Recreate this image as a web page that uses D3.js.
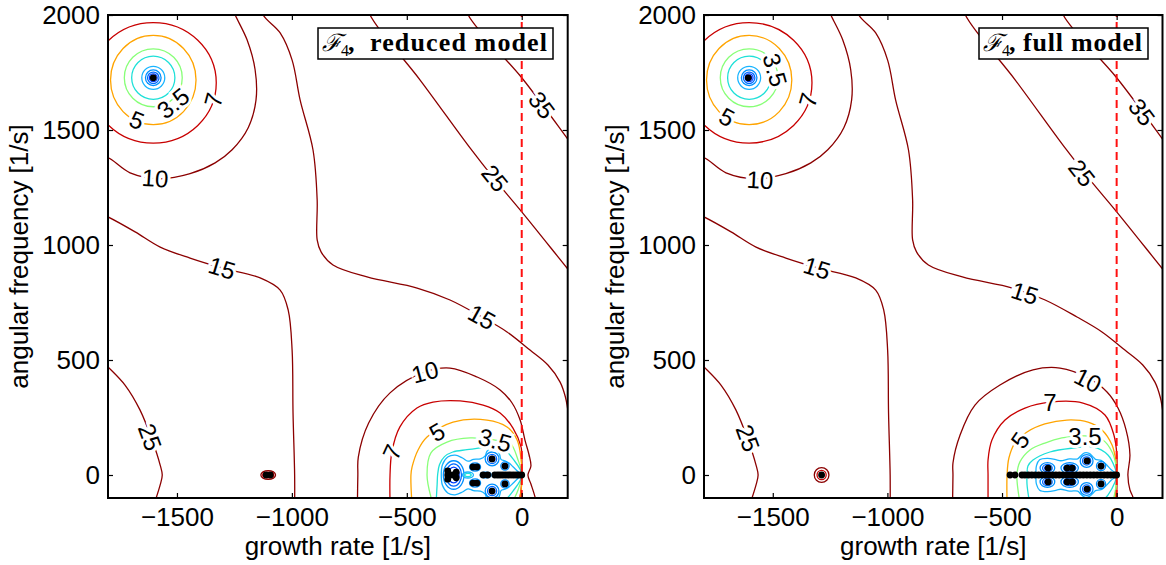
<!DOCTYPE html>
<html>
<head>
<meta charset="utf-8">
<script src="https://cdn.jsdelivr.net/npm/d3@7"></script>
<style>
  body { margin: 0; background: #fff; }
</style>
</head>
<body>
<div id="chart"></div>
<script>
// contour levels and their (jet-like) colours
var levels = [0.5, 1, 1.5, 2, 2.5, 3, 3.5, 5, 7, 10, 15, 25, 35];
var levelColors = ["#0018e8", "#0040ff", "#0068ff", "#0090ff", "#18b4ff", "#1ee0d8", "#88ff78", "#ffa400", "#c80000", "#8b0000", "#8b0000", "#8b0000", "#8b0000"];

var xTicks = [-1500, -1000, -500, 0];
var yTicks = [0, 500, 1000, 1500, 2000];

// far-field contours, [growth rate, angular frequency] (same in both panels)
var c10Top = [[-1820, 1375], [-1800, 1379], [-1704, 1314], [-1573, 1288], [-1443, 1310], [-1334, 1357], [-1260, 1414], [-1190, 1510], [-1156, 1631], [-1160, 1762], [-1195, 1892], [-1247, 2001], [-1262, 2040]];
var c15Left = [[-1830, 1135], [-1800, 1122], [-1682, 1057], [-1573, 991], [-1443, 943], [-1303, 900], [-1138, 857], [-1051, 804], [-1016, 717], [-999, 543], [-995, 270], [-988, 0], [-988, -130]];
var c15Right = [[-1140, 2060], [-1125, 2000], [-1051, 1922], [-999, 1804], [-964, 1630], [-908, 1413], [-890, 1196], [-890, 1022], [-873, 970], [-821, 913], [-673, 861], [-455, 813], [-312, 761], [-173, 687], [-64, 622], [36, 543], [114, 478], [167, 404], [190, 339], [205, 252], [215, 152], [218, 0], [216, -120]];
var c25Top = [[-690, 2100], [-660, 2000], [-442, 1717], [-225, 1422], [-116, 1283], [1, 1143], [197, 900], [230, 860]];
var c35Top = [[-260, 2100], [-233, 2000], [1, 1726], [197, 1465], [230, 1420]];
var c25Low = [[-1830, 500], [-1800, 470], [-1726, 391], [-1661, 283], [-1608, 152], [-1573, 43], [-1564, 0], [-1573, -43], [-1608, -152]];

// rings round the upper left eigenvalue: [level, centre g, centre w, rx, ry]
var ringsTopLeft = [
  [0.5, -1603, 1727, 10, 10], [1, -1603, 1727, 17, 17], [1.5, -1603, 1727, 25, 25], [2, -1603, 1727, 34, 34],
  [2.5, -1603, 1727, 50, 50], [3, -1603, 1727, 94, 94], [3.5, -1603, 1727, 126, 126],
  [5, -1603, 1717, 186, 194], [7, -1603, 1705, 274, 262]
];

// reduced model, cluster near the origin
var c10Red = [[-715, -130], [-713, 0], [-711, 78], [-666, 226], [-573, 357], [-421, 448], [-312, 465], [-194, 426], [-94, 370], [-42, 313], [-7, 239], [14, 152], [32, 87], [40, 39], [27, 0], [40, -39], [58, -96], [65, -130]];
var c7Red = [[-573, -120], [-573, 0], [-565, 100], [-530, 209], [-456, 291], [-386, 317], [-268, 322], [-168, 304], [-94, 270], [-38, 204], [-3, 122], [1, 57], [1, 0], [-3, -65], [-12, -120]];
var c5Red = [[-478, -120], [-482, 0], [-477, 35], [-451, 109], [-412, 165], [-299, 230], [-151, 239], [-64, 209], [-20, 152], [-3, 70], [1, 0], [-3, -70], [-20, -152]];
var c35Red = [[-395, -96], [-412, 0], [-395, 96], [-325, 143], [-225, 161], [-116, 152], [-51, 139], [-16, 65], [1, 0], [-16, -65], [-51, -139]];
var c3Red = [[-372, -110], [-368, -40], [-366, 0], [-358, 45], [-336, 80], [-300, 100], [-238, 110], [-181, 118], [-130, 132], [-80, 115], [-38, 70], [1, 0], [-38, -70], [-80, -115], [-130, -132]];
var c25Red = [[-350, 0], [-345, 45], [-322, 78], [-290, 86], [-258, 74], [-234, 60], [-210, 68], [-180, 70], [-160, 82], [-150, 104], [-129, 114], [-106, 106], [-96, 88], [-90, 68], [-73, 62], [-55, 52], [-38, 36], [-18, 16], [0, 0],
  [-18, -16], [-38, -36], [-55, -52], [-73, -62], [-90, -68], [-96, -88], [-106, -106], [-129, -114], [-150, -104], [-160, -82], [-180, -70], [-210, -68], [-234, -60], [-258, -74], [-290, -86], [-322, -78], [-345, -45]];
var ringsRed = [
  [10, -1103, 0, 32, 19], [7, -1103, 0, 24, 12],
  [2, -296, 0, 45, 62], [1.5, -296, 0, 34, 48], [1, -296, 0, 24, 34],
  [3, -234, 0, 14, 7], [2.5, -234, 0, 24, 13],
  [2, -203, 35, 24, 18], [1.5, -203, 35, 15, 11], [2, -203, -35, 24, 18], [1.5, -203, -35, 15, 11],
  [2, -157, 0, 24, 12],
  [2, -129, 70, 30, 30], [1.5, -129, 70, 20, 20], [1, -129, 70, 11, 11],
  [2, -129, -70, 30, 30], [1.5, -129, -70, 20, 20], [1, -129, -70, 11, 11],
  [2, -73, 39, 18, 18], [1.5, -73, 39, 10, 10], [2, -73, -39, 18, 18], [1.5, -73, -39, 10, 10]
];
var dotsRed = [[-1603, 1727], [-1112, 0], [-1094, 0],
  [-322, 18], [-322, -18], [-322, 0], [-302, 0], [-285, 12], [-285, -12],
  [-212, 35], [-195, 35], [-212, -35], [-195, -35], [-168, 0], [-148, 0],
  [-129, 70], [-129, -70], [-73, 39], [-73, -39],
  [-117, 0], [-105, 0], [-94, 0], [-82, 0], [-70, 0], [-58, 0], [-47, 0], [-35, 0], [-23, 0], [-12, 0], [0, 0]];
var labelsRed = [
  ["5", -1674, 1544, 22], ["3.5", -1517, 1617, -39], ["7", -1342, 1631, -75], ["10", -1595, 1291, 4],
  ["15", -1304, 900, 17], ["15", -173, 687, 29], ["25", -116, 1291, 51], ["35", 88, 1609, 53], ["25", -1617, 165, 70],
  ["10", -421, 448, -15], ["7", -565, 100, -65], ["5", -369, 187, -30], ["3.5", -116, 152, 15]
];

// full model, cluster near the origin
var c10Full = [[-716, -130], [-714, 0], [-714, 52], [-683, 174], [-618, 304], [-509, 391], [-365, 457], [-247, 465], [-125, 422], [-42, 361], [6, 291], [41, 196], [58, 87], [49, 0], [58, -65], [71, -96], [75, -130]];
var c7Full = [[-561, -120], [-561, 0], [-561, 65], [-544, 152], [-487, 239], [-400, 291], [-291, 317], [-147, 313], [-51, 261], [-12, 174], [1, 87], [1, 0], [1, -65], [-3, -120]];
var c5Full = [[-478, -120], [-478, 0], [-470, 74], [-444, 139], [-391, 187], [-313, 222], [-217, 239], [-125, 230], [-64, 196], [-20, 130], [-3, 57], [1, 0], [-3, -57], [-7, -96], [-10, -120]];
var c35Full = [[-422, -120], [-435, 0], [-422, 57], [-378, 109], [-313, 139], [-239, 161], [-138, 170], [-60, 152], [-20, 100], [-3, 43], [1, 0], [-3, -52], [-12, -96], [-20, -120]];
var c3Full = [[-380, -120], [-391, -40], [-391, 0], [-387, 39], [-365, 65], [-291, 100], [-191, 117], [-103, 122], [-38, 87], [-7, 30], [1, 0], [-7, -30], [-38, -87], [-60, -110]];
var c25Full = [[-352, 0], [-350, 40], [-336, 66], [-302, 72], [-262, 66], [-244, 62], [-205, 70], [-170, 70], [-156, 84], [-140, 96], [-120, 94], [-104, 80], [-92, 68], [-68, 64], [-50, 50], [-25, 24], [0, 0],
  [-25, -24], [-50, -50], [-68, -64], [-92, -68], [-104, -80], [-120, -94], [-140, -96], [-156, -84], [-170, -70], [-205, -70], [-244, -62], [-262, -66], [-302, -72], [-336, -66], [-350, -40]];
var ringsFull = [
  [10, -1287, 0, 32, 32], [7, -1287, 0, 20, 20],
  [2, -302, 30, 32, 24], [1.5, -302, 30, 21, 16], [1, -302, 30, 12, 9],
  [2, -302, -30, 32, 24], [1.5, -302, -30, 21, 16], [1, -302, -30, 12, 9],
  [2, -205, 30, 38, 24], [1.5, -205, 30, 27, 16], [1, -205, 30, 16, 9],
  [2, -205, -30, 38, 24], [1.5, -205, -30, 27, 16], [1, -205, -30, 16, 9],
  [2, -131, 61, 28, 28], [1.5, -131, 61, 18, 18], [1, -131, 61, 10, 10],
  [2, -131, -61, 28, 28], [1.5, -131, -61, 18, 18], [1, -131, -61, 10, 10],
  [2, -68, 39, 20, 20], [1.5, -68, 39, 12, 12], [2, -68, -39, 20, 20], [1.5, -68, -39, 12, 12]
];
var dotsFull = [[-1607, 1727], [-1287, 0],
  [-465, 0], [-443, 0], [-413, 0], [-400, 0], [-385, 0], [-370, 0], [-355, 0], [-340, 0], [-325, 0], [-310, 0], [-295, 0],
  [-280, 0], [-265, 0], [-250, 0], [-235, 0], [-220, 0], [-205, 0], [-190, 0], [-175, 0], [-160, 0], [-145, 0], [-130, 0],
  [-115, 0], [-100, 0], [-85, 0], [-70, 0], [-55, 0], [-40, 0], [-25, 0], [-10, 0], [0, 0],
  [-299, 30], [-299, -30], [-216, 30], [-194, 30], [-216, -30], [-194, -30], [-129, 61], [-129, -61], [-68, 39], [-68, -39]];
var labelsFull = [
  ["3.5", -1490, 1761, 74], ["5", -1700, 1557, 28], ["7", -1346, 1631, -74], ["10", -1556, 1283, 3],
  ["15", -1307, 900, 17], ["15", -400, 791, 18], ["25", -151, 1313, 52], ["35", 110, 1578, 53], ["25", -1608, 161, 70],
  ["10", -125, 413, 27], ["7", -291, 317, 0], ["5", -422, 152, -55], ["3.5", -138, 170, 0]
];

var farContours = [
  {level: 10, pts: c10Top}, {level: 15, pts: c15Left}, {level: 15, pts: c15Right},
  {level: 25, pts: c25Top}, {level: 35, pts: c35Top}, {level: 25, pts: c25Low}
];

var color = d3.scaleOrdinal().domain(levels).range(levelColors);

var W = 1166, H = 565;
var plotTop = 15, plotBottom = 498;
var sans = "'Liberation Sans', Arial, Helvetica, sans-serif";
var serif = "'Liberation Serif', 'Times New Roman', serif";

var svg = d3.select("#chart").append("svg")
    .attr("width", W)
    .attr("height", H)
    .style("font-family", sans);

var panels = [
  {
    id: "red", left: 108, right: 567.7, yTitleX: 28,
    contours: farContours.concat([
      {level: 10, pts: c10Red}, {level: 7, pts: c7Red}, {level: 5, pts: c5Red},
      {level: 3.5, pts: c35Red}, {level: 3, pts: c3Red}, {level: 2.5, pts: c25Red, closed: true}
    ]),
    rings: ringsTopLeft.concat(ringsRed), dots: dotsRed, labels: labelsRed,
    legend: {x: 318, w: 235, sub: 341, comma: 348, textX: 370, textW: 177, text: "reduced model"}
  },
  {
    id: "full", left: 704, right: 1162.5, yTitleX: 624,
    contours: farContours.concat([
      {level: 10, pts: c10Full}, {level: 7, pts: c7Full}, {level: 5, pts: c5Full},
      {level: 3.5, pts: c35Full}, {level: 3, pts: c3Full}, {level: 2.5, pts: c25Full, closed: true}
    ]),
    rings: ringsTopLeft.concat(ringsFull), dots: dotsFull, labels: labelsFull,
    legend: {x: 979, w: 169, sub: 1002, comma: 1009, textX: 1023, textW: 119, text: "full model"}
  }
];

panels.forEach(drawPanel);

function drawPanel(p) {
  var x = d3.scaleLinear().domain([-1800, 200]).range([p.left, p.right]);
  var y = d3.scaleLinear().domain([-100, 2000]).range([plotBottom, plotTop]);

  var g = svg.append("g").attr("class", "panel-" + p.id);

  g.append("clipPath")
      .attr("id", "clip-" + p.id)
    .append("rect")
      .attr("x", p.left)
      .attr("y", plotTop)
      .attr("width", p.right - p.left)
      .attr("height", plotBottom - plotTop);

  var plot = g.append("g").attr("clip-path", "url(#clip-" + p.id + ")");

  var line = d3.line()
      .x(function (d) { return x(d[0]); })
      .y(function (d) { return y(d[1]); })
      .curve(d3.curveCatmullRom.alpha(0.5));
  var closedLine = d3.line()
      .x(function (d) { return x(d[0]); })
      .y(function (d) { return y(d[1]); })
      .curve(d3.curveCatmullRomClosed.alpha(0.5));

  // traced contour lines
  plot.selectAll("path.contour")
      .data(p.contours)
      .enter().append("path")
      .attr("class", "contour")
      .attr("d", function (d) { return d.closed ? closedLine(d.pts) : line(d.pts); })
      .attr("fill", "none")
      .attr("stroke", function (d) { return color(d.level); })
      .attr("stroke-width", 1.3);

  // closed rings round single eigenvalues
  plot.selectAll("ellipse.ring")
      .data(p.rings)
      .enter().append("ellipse")
      .attr("class", "ring")
      .attr("cx", function (d) { return x(d[1]); })
      .attr("cy", function (d) { return y(d[2]); })
      .attr("rx", function (d) { return x(d[1] + d[3]) - x(d[1]); })
      .attr("ry", function (d) { return y(d[2]) - y(d[2] + d[4]); })
      .attr("fill", "none")
      .attr("stroke", function (d) { return color(d[0]); })
      .attr("stroke-width", 1.3);

  // stability boundary
  plot.append("line")
      .attr("x1", x(0)).attr("x2", x(0))
      .attr("y1", y(-100)).attr("y2", y(2000))
      .attr("stroke", "#ff1010")
      .attr("stroke-width", 2)
      .attr("stroke-dasharray", "8,5");

  // eigenvalues
  plot.selectAll("circle.eig")
      .data(p.dots)
      .enter().append("circle")
      .attr("class", "eig")
      .attr("cx", function (d) { return x(d[0]); })
      .attr("cy", function (d) { return y(d[1]); })
      .attr("r", 3.4)
      .attr("fill", "#000");

  // contour labels
  plot.selectAll("text.clabel")
      .data(p.labels)
      .enter().append("text")
      .attr("class", "clabel")
      .attr("transform", function (d) {
        return "translate(" + x(d[1]) + "," + y(d[2]) + ") rotate(" + d[3] + ")";
      })
      .attr("text-anchor", "middle")
      .attr("dy", "0.36em")
      .attr("font-size", 24)
      .attr("fill", "#000")
      .attr("stroke", "#fff")
      .attr("stroke-width", 6)
      .attr("paint-order", "stroke")
      .text(function (d) { return d[0]; });

  // axes (ticks point inwards, MATLAB style)
  var fmt = d3.format("d");
  var axB = g.append("g")
      .attr("transform", "translate(0," + plotBottom + ")")
      .call(d3.axisBottom(x).tickValues(xTicks).tickSize(-5).tickPadding(10).tickFormat(fmt));
  var axL = g.append("g")
      .attr("transform", "translate(" + p.left + ",0)")
      .call(d3.axisLeft(y).tickValues(yTicks).tickSize(-5).tickPadding(8).tickFormat(fmt));
  var axT = g.append("g")
      .attr("transform", "translate(0," + plotTop + ")")
      .call(d3.axisTop(x).tickValues(xTicks).tickSize(-5).tickFormat(""));
  var axR = g.append("g")
      .attr("transform", "translate(" + p.right + ",0)")
      .call(d3.axisRight(y).tickValues(yTicks).tickSize(-5).tickFormat(""));

  [axB, axL, axT, axR].forEach(function (a) {
    a.select(".domain").remove();
    a.attr("font-size", 26).attr("font-family", null);
    a.selectAll(".tick line").attr("stroke", "#000").attr("stroke-width", 1.2);
    a.selectAll(".tick text").attr("fill", "#000");
  });

  g.append("rect")
      .attr("x", p.left)
      .attr("y", plotTop)
      .attr("width", p.right - p.left)
      .attr("height", plotBottom - plotTop)
      .attr("fill", "none")
      .attr("stroke", "#000")
      .attr("stroke-width", 2);

  // axis titles
  g.append("text")
      .attr("x", (p.left + p.right) / 2)
      .attr("y", 555)
      .attr("text-anchor", "middle")
      .attr("font-size", 26)
      .text("growth rate [1/s]");
  g.append("text")
      .attr("transform", "translate(" + p.yTitleX + "," + (plotTop + plotBottom) / 2 + ") rotate(-90)")
      .attr("text-anchor", "middle")
      .attr("font-size", 26)
      .text("angular frequency [1/s]");

  // legend box
  var lg = p.legend;
  g.append("rect")
      .attr("x", lg.x)
      .attr("y", 28)
      .attr("width", lg.w)
      .attr("height", 31)
      .attr("fill", "#fff")
      .attr("stroke", "#000")
      .attr("stroke-width", 1.5);
  g.append("text")
      .attr("x", lg.x + 4)
      .attr("y", 51)
      .style("font-family", "'DejaVu Serif', serif")
      .style("font-style", "italic")
      .attr("font-size", 24)
      .text("\u2131");
  g.append("text")
      .attr("x", lg.sub)
      .attr("y", 56)
      .style("font-family", serif)
      .attr("font-size", 16)
      .text("4");
  g.append("text")
      .attr("x", lg.comma)
      .attr("y", 51)
      .style("font-family", serif)
      .attr("font-weight", "bold")
      .attr("font-size", 26)
      .text(",");
  g.append("text")
      .attr("x", lg.textX)
      .attr("y", 51)
      .style("font-family", serif)
      .attr("font-weight", "bold")
      .attr("font-size", 26)
      .attr("textLength", lg.textW)
      .attr("lengthAdjust", "spacing")
      .text(lg.text);
}
</script>
</body>
</html>
